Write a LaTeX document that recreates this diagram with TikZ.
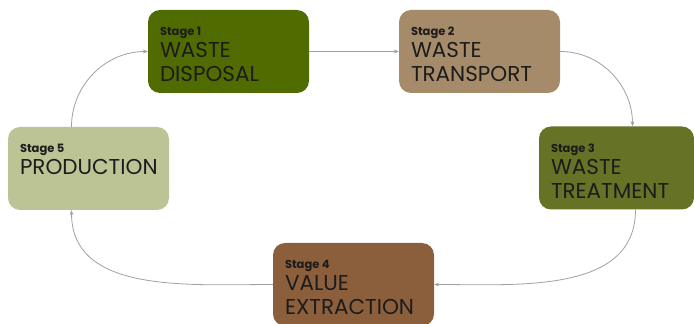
\documentclass[tikz,border=0pt]{standalone}
\usepackage{fontspec}
\setmainfont{Poppins}
\usepackage{xcolor}
\usepackage{tikz}
\usetikzlibrary{arrows.meta,positioning,calc}
\definecolor{disposalgreen}{RGB}{80,107,0}
\definecolor{transportbrown}{RGB}{166,139,106}
\definecolor{treatmentolive}{RGB}{102,114,38}
\definecolor{extractionbrown}{RGB}{139,94,60}
\definecolor{productionsage}{RGB}{188,195,149}
\definecolor{linkgray}{RGB}{160,160,160}
\definecolor{inkdark}{RGB}{28,28,28}

\tikzset{
    stagebox/.style={rounded corners=12pt, minimum width=161pt, minimum height=83pt, inner sep=0pt},
    stagetext/.style={anchor=north west, inner sep=0pt, align=left, text=inkdark,
        font=\fontsize{21.5}{24}\selectfont},
    link/.style={linkgray, line width=0.8pt, -{Stealth[length=5pt,width=4pt]}}
}
\newcommand{\stagelabel}[1]{{\fontsize{11.5}{12}\selectfont\bfseries #1}\\[-2pt]}

\begin{document}
\begin{tikzpicture}[x=1pt,y=1pt]
    \useasboundingbox (0,0) rectangle (694,324);

    % Stage 1
    \node[stagebox, fill=disposalgreen] (s1) at (228.5,272.5) {};
    \node[stagetext] (t1) at ($(s1.north west)+(12,-17)$) {\stagelabel{Stage 1}WASTE\\DISPOSAL};

    % Stage 2
    \node[stagebox, fill=transportbrown] (s2) at (479.5,272.5) {};
    \node[stagetext] (t2) at ($(s2.north west)+(12,-17)$) {\stagelabel{Stage 2}WASTE\\TRANSPORT};

    % Stage 3
    \node[stagebox, fill=treatmentolive, minimum width=155pt] (s3) at (616.5,156) {};
    \node[stagetext] (t3) at ($(s3.north west)+(12,-17)$) {\stagelabel{Stage 3}WASTE\\TREATMENT};

    % Stage 4
    \node[stagebox, fill=extractionbrown] (s4) at (353.5,39.5) {};
    \node[stagetext] (t4) at ($(s4.north west)+(12,-17)$) {\stagelabel{Stage 4}VALUE\\EXTRACTION};

    % Stage 5
    \node[stagebox, fill=productionsage] (s5) at (88.5,155.5) {};
    \node[stagetext] (t5) at ($(s5.north west)+(12,-17)$) {\stagelabel{Stage 5}PRODUCTION};

    % Cycle
    \draw[link] (s1.east) -- (s2.west);
    \draw[link] (s2.east) to[out=0,in=90] ([xshift=16pt]s3.north);
    \draw[link] ([xshift=19pt]s3.south) to[out=-90,in=0] (s4.east);
    \draw[link] (s4.west) to[out=180,in=-90] ([xshift=-17pt]s5.south);
    \draw[link] ([xshift=-17pt]s5.north) to[out=90,in=180] (s1.west);
\end{tikzpicture}
\end{document}
